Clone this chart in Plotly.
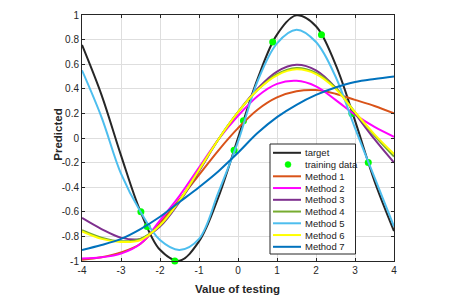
import plotly.graph_objects as go

# ---------------- data ----------------
X = [-4.0, -3.5, -3.0, -2.5, -2.0, -1.5, -1.0, -0.5, 0.0, 0.5, 1.0, 1.5, 2.0, 2.5, 3.0, 3.5, 4.0]

TARGET   = [0.757, 0.351, -0.141, -0.598, -0.909, -0.997, -0.841, -0.479, 0.0, 0.479, 0.841, 0.997, 0.909, 0.598, 0.141, -0.351, -0.757]
METHOD_1 = [-0.99, -0.97, -0.93, -0.86, -0.69, -0.50, -0.30, -0.10, 0.08, 0.23, 0.33, 0.38, 0.39, 0.36, 0.31, 0.26, 0.20]
METHOD_2 = [-0.98, -0.97, -0.94, -0.86, -0.67, -0.47, -0.24, -0.01, 0.18, 0.34, 0.44, 0.465, 0.42, 0.31, 0.19, 0.09, 0.01]
METHOD_3 = [-0.65, -0.74, -0.81, -0.82, -0.72, -0.52, -0.27, -0.01, 0.21, 0.40, 0.54, 0.595, 0.55, 0.41, 0.20, -0.01, -0.20]
METHOD_4 = [-0.75, -0.81, -0.84, -0.82, -0.71, -0.51, -0.26, -0.01, 0.21, 0.39, 0.52, 0.57, 0.53, 0.41, 0.21, 0.02, -0.15]
METHOD_5 = [0.55, 0.17, -0.29, -0.60, -0.83, -0.91, -0.82, -0.44, -0.03, 0.46, 0.77, 0.88, 0.78, 0.50, 0.08, -0.32, -0.72]
METHOD_6 = [-0.76, -0.82, -0.845, -0.83, -0.71, -0.51, -0.26, -0.01, 0.21, 0.39, 0.51, 0.558, 0.52, 0.40, 0.21, 0.03, -0.13]
METHOD_7 = [-0.91, -0.87, -0.82, -0.74, -0.64, -0.52, -0.40, -0.27, -0.12, 0.04, 0.17, 0.27, 0.35, 0.41, 0.455, 0.48, 0.50]

TRAIN_X = [-2.49, -2.33, -1.62, -0.10, 0.14, 0.89, 2.14, 2.92, 3.34]
TRAIN_Y = [-0.60, -0.72, -1.00, -0.10, 0.14, 0.78, 0.84, 0.20, -0.20]

NAMES = ["target", "training data", "Method 1", "Method 2", "Method 3",
         "Method 4", "Method 5", "Method 6", "Method 7"]
COLORS = ["#262626", "#00FF00", "#D95319", "#FF00FF", "#7E2F8E",
          "#77AC30", "#4DBEEE", "#FFFF00", "#0072BD"]

XTICKS = [-4, -3, -2, -1, 0, 1, 2, 3, 4]
XTICK_LABELS = ["-4", "-3", "-2", "-1", "0", "1", "2", "3", "4"]
YTICKS = [-1, -0.8, -0.6, -0.4, -0.2, 0, 0.2, 0.4, 0.6, 0.8, 1]
YTICK_LABELS = ["-1", "-0.8", "-0.6", "-0.4", "-0.2", "0", "0.2", "0.4", "0.6", "0.8", "1"]

X_TITLE = "Value of testing"
Y_TITLE = "Predicted"

# ---------------- figure ----------------
W, H = 454, 296
PLOT_X0, PLOT_X1, PLOT_Y0, PLOT_Y1 = 82, 394, 15, 261
L, T = PLOT_X0, PLOT_Y0
R, B = W - PLOT_X1, H - PLOT_Y1
FONT = "Liberation Sans, Arial, Helvetica, sans-serif"
AXC = "#262626"

fig = go.Figure()

fig.add_trace(go.Scatter(x=X, y=TARGET, mode="lines", name=NAMES[0],
                         line=dict(color=COLORS[0], width=2, shape="spline")))
fig.add_trace(go.Scatter(x=TRAIN_X, y=TRAIN_Y, mode="markers", name=NAMES[1],
                         marker=dict(color=COLORS[1], size=7), cliponaxis=False))
for name, ys, col in zip(NAMES[2:], [METHOD_1, METHOD_2, METHOD_3, METHOD_4,
                                     METHOD_5, METHOD_6, METHOD_7], COLORS[2:]):
    fig.add_trace(go.Scatter(x=X, y=ys, mode="lines", name=name,
                             line=dict(color=col, width=2, shape="spline")))

axis_common = dict(showline=True, linecolor=AXC, linewidth=1, mirror="ticks",
                   ticks="inside", ticklen=3, tickcolor=AXC, tickwidth=1,
                   showgrid=True, gridcolor="#dedede", gridwidth=1, zeroline=False,
                   tickfont=dict(family=FONT, size=10, color=AXC))

fig.update_xaxes(range=[-4, 4], tickvals=XTICKS, ticktext=XTICK_LABELS, **axis_common)
fig.update_yaxes(range=[-1, 1], tickvals=YTICKS, ticktext=YTICK_LABELS, **axis_common)

# ---------------- layout decoration: titles and compact MATLAB-style legend ----------------
PW, PH = PLOT_X1 - PLOT_X0, PLOT_Y1 - PLOT_Y0


def px(xp):
    return (xp - PLOT_X0) / PW


def py(yp):
    return (PLOT_Y1 - yp) / PH


annotations = [
    dict(xref="paper", yref="paper", x=px(237.5), y=py(288.5), xanchor="center",
         yanchor="middle", showarrow=False, text="<b>" + X_TITLE + "</b>",
         font=dict(family=FONT, size=11.5, color=AXC)),
    dict(xref="paper", yref="paper", x=px(57.2), y=py(134.5), xanchor="center",
         yanchor="middle", showarrow=False, textangle=-90, text="<b>" + Y_TITLE + "</b>",
         font=dict(family=FONT, size=11.5, color=AXC)),
]

shapes = [dict(type="rect", xref="paper", yref="paper",
               x0=px(270), x1=px(355.5), y0=py(254), y1=py(144),
               line=dict(color=AXC, width=1), fillcolor="white", layer="above")]
row0, step = 152.8, 11.75
for i, (name, col) in enumerate(zip(NAMES, COLORS)):
    yc = row0 + i * step
    if i == 1:
        shapes.append(dict(type="circle", xref="paper", yref="paper",
                           x0=px(285), x1=px(291), y0=py(yc + 3), y1=py(yc - 3),
                           fillcolor=col, line=dict(color=col, width=0.5),
                           layer="above"))
    else:
        shapes.append(dict(type="line", xref="paper", yref="paper",
                           x0=px(273), x1=px(301), y0=py(yc), y1=py(yc),
                           line=dict(color=col, width=2), layer="above"))
    annotations.append(dict(xref="paper", yref="paper", x=px(302.5), y=py(yc),
                            xanchor="left", yanchor="middle", showarrow=False,
                            text=name, font=dict(family=FONT, size=9.5, color="#1a1a1a")))

fig.update_layout(width=W, height=H, margin=dict(l=L, r=R, t=T, b=B, autoexpand=False),
                  paper_bgcolor="white", plot_bgcolor="white", showlegend=False,
                  shapes=shapes, annotations=annotations,
                  font=dict(family=FONT, size=10, color=AXC))

fig.write_html("out.html",
               config={"displayModeBar": False, "staticPlot": True},
               post_script="document.body.style.margin='0';"
                           "document.body.style.overflow='hidden';")
